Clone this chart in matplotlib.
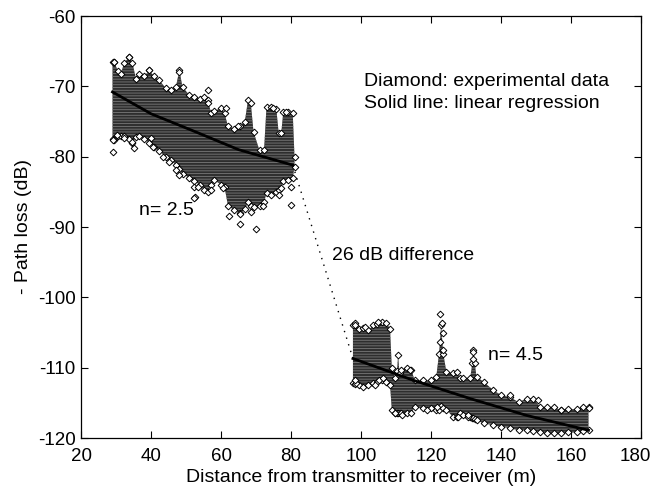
import matplotlib
matplotlib.use("Agg")
import matplotlib.pyplot as plt
from matplotlib.transforms import ScaledTranslation

plt.rcParams['font.family'] = ['Liberation Sans', 'DejaVu Sans']
plt.rcParams['axes.unicode_minus'] = False
plt.rcParams['hatch.color'] = '#7a7a7a'
plt.rcParams['hatch.linewidth'] = 0.6

# ---- Segment 1 (LOS region): envelope of the dense experimental data ----
seg1_x = [29.0, 29.5, 30.5, 31.4, 32.3, 33.8, 34.7, 35.7, 36.6, 38.1, 39.5, 40.9, 42.3, 44.3,
          45.7, 47.1, 48.1, 49.0, 50.9, 52.4, 54.0, 55.2, 56.2, 57.2, 58.1, 60.0, 61.0, 62.0,
          63.8, 65.5, 66.8, 67.7, 68.5, 69.3, 71.0, 72.3, 73.0, 74.4, 75.8, 76.5, 77.2, 77.8,
          79.1, 80.5, 81.0]
seg1_top = [-66.5, -66.5, -67.8, -68.2, -66.7, -65.8, -66.7, -68.9, -68.2, -68.6, -67.7, -68.6,
            -69.1, -70.3, -70.5, -70.1, -67.7, -70.1, -71.2, -71.5, -71.8, -71.5, -72.0, -73.8,
            -73.5, -73.1, -73.8, -75.7, -76.0, -75.7, -75.0, -72.0, -72.3, -76.5, -79.1, -79.0,
            -72.9, -72.9, -73.2, -76.7, -76.7, -73.6, -73.6, -73.8, -80.0]
seg1_bot = [-77.5, -77.6, -77.0, -77.0, -77.1, -77.5, -78.0, -77.2, -77.0, -77.5, -78.0, -78.6,
            -79.2, -80.0, -80.5, -81.2, -81.8, -82.4, -83.0, -83.5, -84.0, -84.8, -85.0, -84.0,
            -83.3, -84.0, -84.3, -87.0, -87.6, -88.0, -87.5, -86.5, -87.0, -87.1, -87.0, -86.5,
            -85.2, -85.5, -85.0, -84.8, -84.5, -83.5, -83.3, -83.0, -81.5]

# ---- Segment 2 (NLOS region) ----
seg2_x = [97.7, 98.2, 99.5, 100.6, 102.0, 103.5, 104.5, 105.9, 107.2, 108.3, 108.8, 109.7,
          110.3, 110.6, 111.0, 111.5, 113.0, 114.4, 115.3, 117.7, 120.0, 121.5, 122.3, 122.9,
          123.5, 124.4, 126.3, 127.3, 128.3, 129.2, 131.2, 131.8, 132.1, 132.5, 133.0, 135.0,
          137.8, 140.0, 142.6, 145.0, 147.4, 149.2, 151.2, 153.2, 155.0, 157.0, 159.0, 161.7,
          163.5, 165.0]
seg2_top = [-104.0, -103.7, -104.5, -104.4, -104.7, -104.0, -103.8, -103.5, -103.6, -104.5,
            -110.0, -111.5, -110.5, -108.2, -110.8, -110.3, -110.0, -110.3, -111.8, -111.8,
            -111.8, -111.3, -108.0, -104.0, -108.0, -110.6, -110.8, -110.6, -111.5, -111.5,
            -111.5, -109.4, -107.5, -109.4, -111.3, -112.0, -113.2, -113.9, -114.2, -114.9,
            -114.4, -114.4, -115.6, -115.6, -115.6, -116.0, -115.9, -115.9, -115.6, -115.6]
seg2_bot = [-112.2, -112.3, -112.5, -112.7, -112.5, -112.2, -112.0, -111.8, -112.0, -112.5,
            -116.0, -116.5, -116.5, -116.5, -116.5, -116.5, -116.5, -116.5, -115.6, -115.8,
            -115.8, -116.0, -116.0, -115.5, -115.8, -116.0, -117.0, -117.0, -116.5, -116.8,
            -117.0, -117.2, -117.2, -117.3, -117.5, -117.9, -118.2, -118.4, -118.6, -118.9,
            -118.9, -119.0, -119.1, -119.3, -119.3, -119.3, -119.2, -119.2, -119.0, -118.9]

# ---- Isolated diamonds outside the dense band ----
out_x = [29.0, 29.0, 30.4, 32.3, 34.7, 35.2, 40.0, 40.5, 43.3, 45.2, 47.1, 48.1, 52.4, 52.7,
         29.5, 33.8, 39.5, 48.1, 52.4, 53.4, 57.2, 60.5, 62.4, 65.3, 65.3, 70.0, 68.6, 71.9,
         76.7, 80.1, 80.1, 56.2, 56.2, 61.5, 64.8, 74.8, 78.6,
         98.2, 98.7, 98.2, 101.1, 104.0, 104.9, 105.2, 106.3, 109.7, 111.6, 114.0, 118.8,
         122.6, 123.1, 123.4, 122.6, 123.4, 121.6, 127.8, 130.7, 132.1, 132.1, 130.7, 142.6,
         150.7, 157.0, 165.1]
out_y = [-77.6, -79.3, -76.9, -77.3, -77.9, -78.8, -77.4, -78.6, -80.0, -80.7, -81.9, -82.6,
         -84.3, -85.7, -66.5, -65.8, -67.7, -68.0, -85.9, -84.3, -84.8, -84.5, -88.5, -88.1,
         -89.6, -90.3, -87.9, -87.0, -85.5, -86.9, -84.3, -70.5, -72.4, -73.1, -75.7, -73.1,
         -73.6,
         -104.0, -112.2, -111.8, -104.2, -112.5, -103.5, -111.8, -111.5, -116.5, -116.8,
         -110.4, -116.0, -102.3, -103.7, -105.1, -106.3, -107.5, -115.6, -117.0, -117.0,
         -107.8, -108.7, -116.8, -113.9, -114.6, -116.0, -115.8]

# ---- Linear regression (on log distance) ----
reg1_x = [29.0, 40.0, 52.4, 65.0, 80.5]
reg1_y = [-70.8, -73.9, -76.4, -79.0, -81.2]
reg2_x = [97.7, 115.0, 131.2, 147.4, 165.0]
reg2_y = [-108.7, -111.8, -114.4, -116.8, -118.9]

# ---- Dotted connector (26 dB difference) ----
gap_x = [80.5, 97.7]
gap_y = [-81.2, -108.7]

x_ticks = [20, 40, 60, 80, 100, 120, 140, 160, 180]
y_ticks = [-120, -110, -100, -90, -80, -70, -60]

fig = plt.figure(figsize=(6.55, 4.98), dpi=100)
ax = fig.add_axes([81 / 655, 1 - 438 / 498, (641 - 81) / 655, (438 - 16) / 498])

band_color = '#2e2e2e'
mk = dict(linestyle='none', marker='D', markersize=3.4, markerfacecolor='white',
          markeredgecolor='black', markeredgewidth=0.7, zorder=2)
for xs, top, bot in [(seg1_x, seg1_top, seg1_bot), (seg2_x, seg2_top, seg2_bot)]:
    ax.fill_between(xs, bot, top, facecolor=band_color, edgecolor='none',
                    hatch='------', linewidth=0, zorder=1)
    ax.plot(xs, top, **mk)
    ax.plot(xs, bot, **mk)

ax.plot(out_x, out_y, **mk)

ax.plot(reg1_x, reg1_y, color='black', linewidth=2.0, zorder=3)
ax.plot(reg2_x, reg2_y, color='black', linewidth=2.0, zorder=3)
ax.plot(gap_x, gap_y, color='black', linewidth=1.0, linestyle=(0, (1, 4)), zorder=3)

ax.set_xlim(20, 180)
ax.set_ylim(-120, -60)
ax.set_xticks(x_ticks)
ax.set_yticks(y_ticks)
ax.tick_params(direction='in', top=True, right=True, length=5, width=0.8,
               labelsize=13.5)
ax.tick_params(axis='x', pad=7)
ax.tick_params(axis='y', pad=4)
for s in ax.spines.values():
    s.set_linewidth(0.9)

# keep the last x tick label inside the figure
last = ax.get_xticklabels()[-1]
last.set_transform(last.get_transform() + ScaledTranslation(-4 / 72, 0, fig.dpi_scale_trans))

ax.set_xlabel('Distance from transmitter to receiver (m)', fontsize=14, labelpad=3)
ax.set_ylabel('- Path loss (dB)', fontsize=14, labelpad=4)

ax.text(101, -69.3, 'Diamond: experimental data', fontsize=14, va='center', ha='left')
ax.text(101, -72.4, 'Solid line: linear regression', fontsize=14, va='center', ha='left')
ax.text(36.5, -87.6, 'n= 2.5', fontsize=14, va='center', ha='left')
ax.text(91.6, -94.0, '26 dB difference', fontsize=14, va='center', ha='left')
ax.text(136.3, -108.2, 'n= 4.5', fontsize=14, va='center', ha='left')

fig.savefig('out.png', dpi=100)
